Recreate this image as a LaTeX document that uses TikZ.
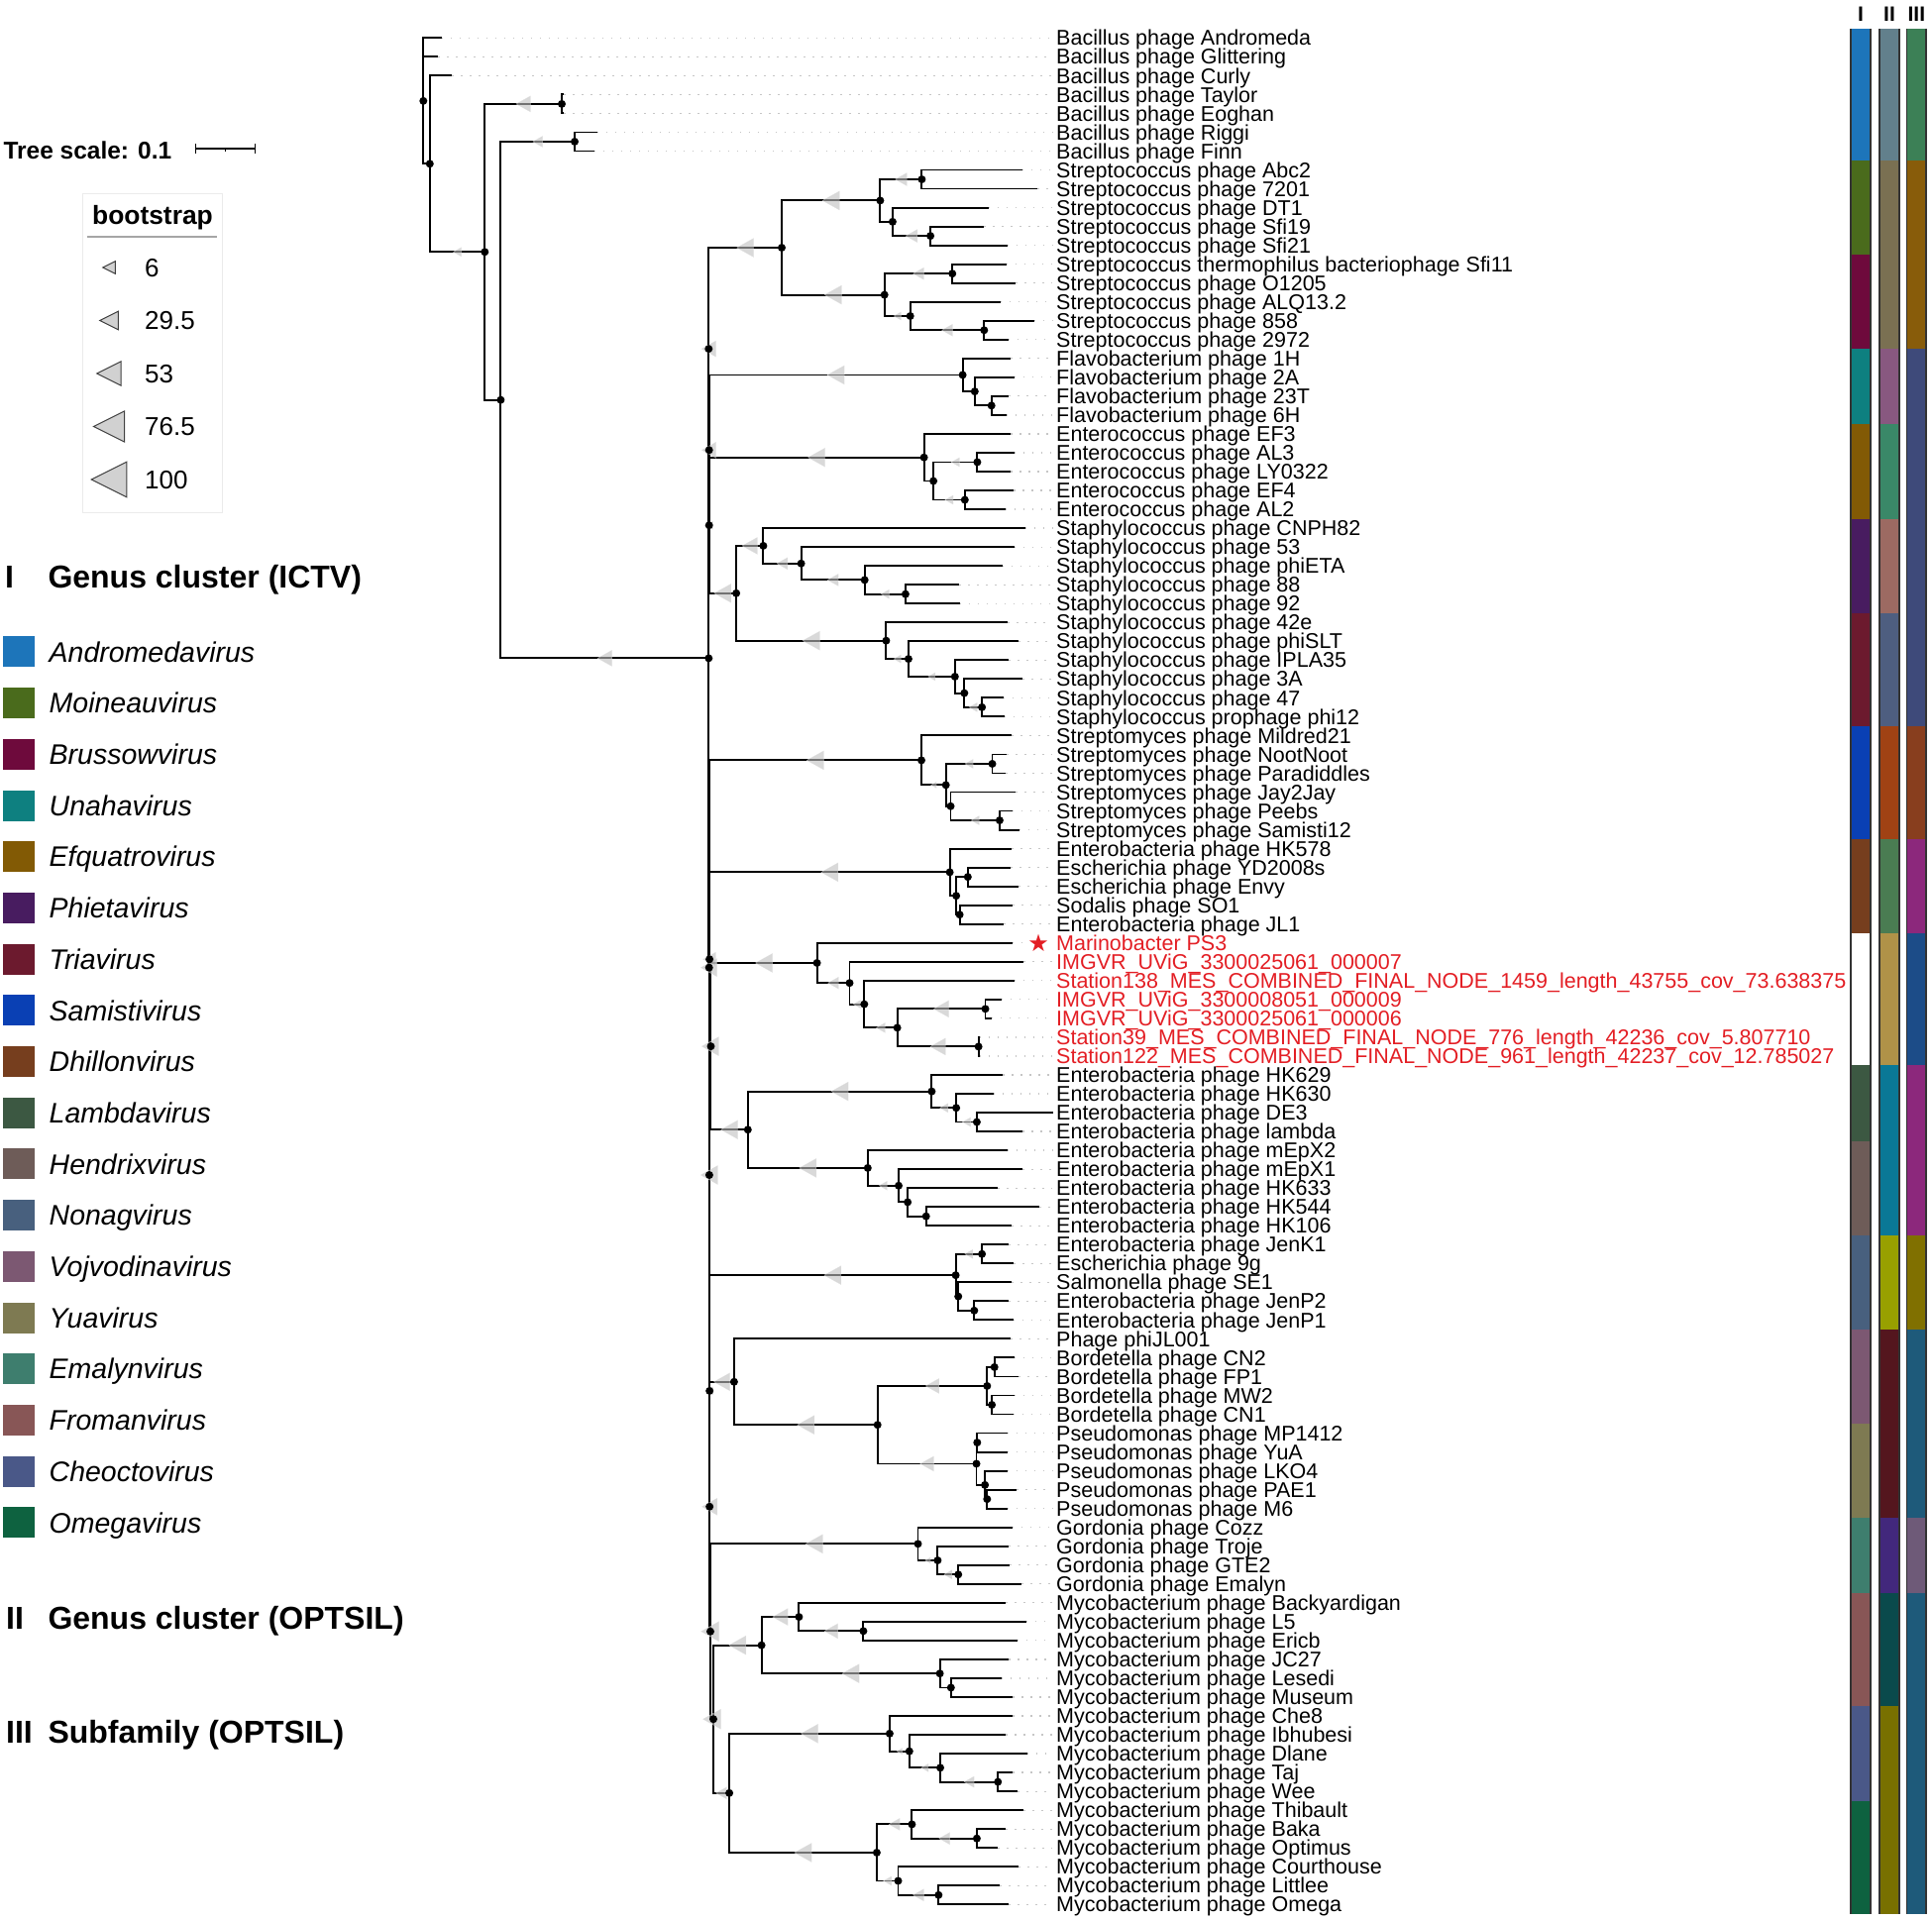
\documentclass[tikz,border=0pt]{standalone}
\usepackage{fontspec}
\setmainfont{Liberation Sans}
\newfontfamily\symfont{DejaVu Sans}
\usetikzlibrary{arrows.meta,positioning,calc}

\definecolor{hitred}{RGB}{227,30,36}
\definecolor{andro}{HTML}{1D75BA}
\definecolor{moine}{HTML}{4A6B1C}
\definecolor{bruss}{HTML}{6E0A3C}
\definecolor{unaha}{HTML}{0E8080}
\definecolor{efqua}{HTML}{825A05}
\definecolor{phiet}{HTML}{481C60}
\definecolor{triav}{HTML}{6C1A2E}
\definecolor{samis}{HTML}{0A40B4}
\definecolor{dhill}{HTML}{763E1E}
\definecolor{lambd}{HTML}{3C5842}
\definecolor{hendr}{HTML}{6E5C58}
\definecolor{nonag}{HTML}{48607E}
\definecolor{vojvo}{HTML}{7C5872}
\definecolor{yuavi}{HTML}{7E7A52}
\definecolor{emaly}{HTML}{3E7E6E}
\definecolor{froma}{HTML}{885656}
\definecolor{cheoc}{HTML}{4A5888}
\definecolor{omega}{HTML}{0E6240}
\definecolor{oga}{HTML}{62808C}
\definecolor{ogb}{HTML}{7A7052}
\definecolor{ogc}{HTML}{885880}
\definecolor{ogd}{HTML}{3A8868}
\definecolor{oge}{HTML}{9C6A62}
\definecolor{ogf}{HTML}{4E5E80}
\definecolor{ogg}{HTML}{A04214}
\definecolor{ogh}{HTML}{4A7C52}
\definecolor{ogi}{HTML}{B09248}
\definecolor{ogj}{HTML}{0A7896}
\definecolor{ogk}{HTML}{98A000}
\definecolor{ogl}{HTML}{54161E}
\definecolor{ogm}{HTML}{42287C}
\definecolor{ogn}{HTML}{0A4A4C}
\definecolor{ogo}{HTML}{787000}
\definecolor{sfa}{HTML}{3C8056}
\definecolor{sfb}{HTML}{885C0A}
\definecolor{sfc}{HTML}{3E4A7A}
\definecolor{sfd}{HTML}{883E1E}
\definecolor{sfe}{HTML}{8C287C}
\definecolor{sff}{HTML}{1C4C88}
\definecolor{sfg}{HTML}{807000}
\definecolor{sfh}{HTML}{1E5A7A}
\definecolor{sfi}{HTML}{6E5A78}

\tikzset{
  boot/.pic={\filldraw[fill=black!25, draw=black!12, fill opacity=.6, draw opacity=.6]
    (-0.45*#1,0) -- (0.45*#1,0.5*#1) -- (0.45*#1,-0.5*#1) -- cycle;},
  ltri/.pic={\filldraw[fill=black!18, draw=black!75, line width=1pt]
    (-0.5*#1,0) -- (0.5*#1,0.5*#1) -- (0.5*#1,-0.5*#1) -- cycle;}
}

\begin{document}
\begin{tikzpicture}[
  x=1pt, y=-1pt,
  br/.style={line width=1.9pt},
  lead/.style={gray!45, line width=1.2pt, dash pattern=on 1.5pt off 7.5pt},
  leaf/.style={anchor=west, inner sep=0pt, font=\fontsize{21.5}{21.5}\selectfont, text height=15.3pt, text depth=0pt},
  hit/.style={leaf, text=hitred},
  head/.style={anchor=base west, inner sep=0pt, font=\bfseries\fontsize{32}{32}\selectfont},
  sq/.style={minimum width=31.7pt, minimum height=31pt, inner sep=0pt},
  gname/.style={inner sep=0pt, font=\itshape\fontsize{28.5}{28.5}\selectfont, text height=20.4pt, text depth=0pt},
  bsval/.style={anchor=west, inner sep=0pt, font=\fontsize{26}{26}\selectfont, text height=18.6pt, text depth=0pt}
]
\useasboundingbox (0,0) rectangle (1950,1938);

\begin{scope}[y=-19.03pt, yshift=-19.27pt]
\coordinate (A1) at (427.3,4.34);
\coordinate (A2) at (433.8,7.675);
\coordinate (A3) at (489.3,12.35);
\coordinate (TE) at (567,4.5);
\coordinate (A4) at (505.4,20.2);
\coordinate (RF) at (580,6.5);
\coordinate (B) at (715.3,33.9);
\coordinate (d1) at (715.3,17.49);
\coordinate (d2) at (715.7,22.86);
\coordinate (d3) at (715.7,26.85);
\coordinate (d6) at (715.7,50.31);
\coordinate (d8) at (715.9,61.31);
\coordinate (d5) at (716.1,49.867);
\coordinate (d7) at (717.5,54.484);
\coordinate (d9) at (716.2,72.76);
\coordinate (d10) at (716.2,78.9);
\coordinate (d11) at (717,85.52);
\coordinate (d12) at (720,90.17);
\coordinate (S0) at (789,12.125);
\coordinate (S1) at (888.4,9.625);
\coordinate (S1a) at (930.4,8.5);
\coordinate (S1b) at (900.9,10.75);
\coordinate (S1c) at (939.1,11.5);
\coordinate (S2) at (892.7,14.625);
\coordinate (S2a) at (961.2,13.5);
\coordinate (S2b) at (918.7,15.75);
\coordinate (S2c) at (993.3,16.5);
\coordinate (F0) at (971.6,18.875);
\coordinate (F1) at (983.8,19.75);
\coordinate (F2) at (1000.7,20.5);
\coordinate (E0) at (932.6,23.25);
\coordinate (E1) at (942.1,24.5);
\coordinate (E2) at (986.4,23.5);
\coordinate (E3) at (973.8,25.5);
\coordinate (T0) at (743.1,30.453);
\coordinate (T1) at (770.4,27.9375);
\coordinate (T2) at (808.6,28.875);
\coordinate (T3) at (872.7,29.75);
\coordinate (T4) at (913.9,30.5);
\coordinate (T5) at (894.4,32.96875);
\coordinate (T6) at (916.9,33.9375);
\coordinate (T7) at (963.8,34.875);
\coordinate (T8) at (973.3,35.75);
\coordinate (T9) at (991.1,36.5);
\coordinate (M0) at (930,39.3125);
\coordinate (M1) at (954.7,40.625);
\coordinate (M2) at (1001.5,39.5);
\coordinate (M3) at (959.5,41.75);
\coordinate (M4) at (1008.9,42.5);
\coordinate (H0) at (958.6,45.25);
\coordinate (H1) at (965.1,46.5);
\coordinate (H2) at (976.8,45.5);
\coordinate (H3) at (968.6,47.5);
\coordinate (R0) at (824.6,50.0625);
\coordinate (R1) at (857.5,51.125);
\coordinate (R2) at (872.3,52.25);
\coordinate (R3) at (905.6,53.5);
\coordinate (R4) at (994.5,52.5);
\coordinate (R5) at (987.6,54.5);
\coordinate (L0) at (754.8,58.906);
\coordinate (L1) at (940.4,56.875);
\coordinate (L2) at (965.1,57.75);
\coordinate (L3) at (985.9,58.5);
\coordinate (L4) at (875.8,60.9375);
\coordinate (L5) at (907,61.875);
\coordinate (L6) at (916.1,62.75);
\coordinate (L7) at (934.7,63.5);
\coordinate (J0) at (964.6,66.625);
\coordinate (J1) at (991.1,65.5);
\coordinate (J2) at (967.2,67.75);
\coordinate (J3) at (983.3,68.5);
\coordinate (P0) at (740.9,72.28);
\coordinate (P1) at (885.7,74.5625);
\coordinate (P2) at (996.3,72.5);
\coordinate (P2a) at (1003.7,71.5);
\coordinate (P2b) at (1001.1,73.5);
\coordinate (P3) at (985.5,76.625);
\coordinate (P3a) at (986.3,75.5);
\coordinate (P3b) at (994.1,77.75);
\coordinate (P3c) at (996.3,78.5);
\coordinate (G0) at (926.5,80.875);
\coordinate (G1) at (946.4,81.75);
\coordinate (G2) at (967.2,82.5);
\coordinate (Y0) at (768.6,86.25);
\coordinate (Y1) at (806.4,84.75);
\coordinate (Y2) at (871.4,85.5);
\coordinate (Y3) at (948.6,87.75);
\coordinate (Y4) at (959.8,88.5);
\coordinate (W0) at (736.1,94.09);
\coordinate (W1) at (897.9,90.9375);
\coordinate (W2) at (917.8,91.875);
\coordinate (W3) at (949,92.75);
\coordinate (W4) at (1007.2,93.5);
\coordinate (W5) at (884.9,97.25);
\coordinate (W6) at (920.4,95.75);
\coordinate (W7) at (985.9,96.5);
\coordinate (W8) at (906.5,98.75);
\coordinate (W9) at (947.3,99.5);

\foreach \r/\x/\txt in {
  1/445.5/Bacillus phage Andromeda, 2/442.1/Bacillus phage Glittering, 3/456.4/Bacillus phage Curly,
  4/569.1/Bacillus phage Taylor, 5/569.1/Bacillus phage Eoghan, 6/602.5/Bacillus phage Riggi,
  7/599.9/Bacillus phage Finn, 8/1031.9/Streptococcus phage Abc2, 9/1047.1/Streptococcus phage 7201,
  10/997.6/Streptococcus phage DT1, 11/993.3/Streptococcus phage Sfi19, 12/1016.7/Streptococcus phage Sfi21,
  13/1015.9/Streptococcus thermophilus bacteriophage Sfi11, 14/1025.4/Streptococcus phage O1205,
  15/1009.8/Streptococcus phage ALQ13.2, 16/1043.6/Streptococcus phage 858, 17/1017.6/Streptococcus phage 2972,
  18/1020.2/Flavobacterium phage 1H, 19/1023.7/Flavobacterium phage 2A, 20/1018/Flavobacterium phage 23T,
  21/1015.9/Flavobacterium phage 6H, 22/1020.2/Enterococcus phage EF3, 23/1023.7/Enterococcus phage AL3,
  24/1020.2/Enterococcus phage LY0322, 25/1023.2/Enterococcus phage EF4, 26/1014.5/Enterococcus phage AL2,
  27/1034.5/Staphylococcus phage CNPH82, 28/1023.7/Staphylococcus phage 53, 29/1011.5/Staphylococcus phage phiETA,
  30/968.1/Staphylococcus phage 88, 31/968.6/Staphylococcus phage 92, 32/1017.1/Staphylococcus phage 42e,
  33/1028.4/Staphylococcus phage phiSLT, 34/1018/Staphylococcus phage IPLA35, 35/1032.3/Staphylococcus phage 3A,
  36/1012.8/Staphylococcus phage 47, 37/1013.7/Staphylococcus prophage phi12, 38/1021.1/Streptomyces phage Mildred21,
  39/1016.3/Streptomyces phage NootNoot, 40/1015/Streptomyces phage Paradiddles, 41/1025.4/Streptomyces phage Jay2Jay,
  42/1021.5/Streptomyces phage Peebs, 43/1028.8/Streptomyces phage Samisti12, 44/1021.1/Enterobacteria phage HK578,
  45/1020.2/Escherichia phage YD2008s, 46/1028/Escherichia phage Envy, 47/1022.4/Sodalis phage SO1,
  48/1013.2/Enterobacteria phage JL1,
  56/1012.4/Enterobacteria phage HK629, 57/1002.8/Enterobacteria phage HK630, 58/1062.7/Enterobacteria phage DE3,
  59/1032.3/Enterobacteria phage lambda, 60/1016.7/Enterobacteria phage mEpX2, 61/1032.3/Enterobacteria phage mEpX1,
  62/1007.1/Enterobacteria phage HK633, 63/1049.2/Enterobacteria phage HK544, 64/1021.1/Enterobacteria phage HK106,
  65/1018/Enterobacteria phage JenK1, 66/1023.2/Escherichia phage 9g, 67/1021.1/Salmonella phage SE1,
  68/1018/Enterobacteria phage JenP2, 69/1022.6/Enterobacteria phage JenP1, 70/1020.2/Phage phiJL001,
  71/1023.6/Bordetella phage CN2, 72/1028.4/Bordetella phage FP1, 73/1023.6/Bordetella phage MW2,
  74/1022.7/Bordetella phage CN1, 75/1016.7/Pseudomonas phage MP1412, 76/1016.7/Pseudomonas phage YuA,
  77/1016.7/Pseudomonas phage LKO4, 78/1026.3/Pseudomonas phage PAE1, 79/1016.7/Pseudomonas phage M6,
  80/1021.5/Gordonia phage Cozz, 81/1018/Gordonia phage Troje, 82/1019.3/Gordonia phage GTE2,
  83/1031/Gordonia phage Emalyn, 84/1015/Mycobacterium phage Backyardigan, 85/1035.8/Mycobacterium phage L5,
  86/1026.7/Mycobacterium phage Ericb, 87/1018/Mycobacterium phage JC27, 88/1010.6/Mycobacterium phage Lesedi,
  89/1022.4/Mycobacterium phage Museum, 90/1022.4/Mycobacterium phage Che8, 91/1015/Mycobacterium phage Ibhubesi,
  92/1036.7/Mycobacterium phage Dlane, 93/1022.4/Mycobacterium phage Taj, 94/1027.1/Mycobacterium phage Wee,
  95/1033.2/Mycobacterium phage Thibault, 96/1015/Mycobacterium phage Baka, 97/1007.1/Mycobacterium phage Optimus,
  98/1028/Mycobacterium phage Courthouse, 99/1009.3/Mycobacterium phage Littlee, 100/1018/Mycobacterium phage Omega}{
  \coordinate (t\r) at (\x,\r);
  \node[leaf] (lab\r) at (1066,\r) {\txt};
  \draw[lead] (t\r) -- ([xshift=-4pt]lab\r.west);
}

\foreach \r/\x/\txt in {
  50/1033.2/IMGVR\_UViG\_3300025061\_000007,
  51/1023.7/Station138\_MES\_COMBINED\_FINAL\_NODE\_1459\_length\_43755\_cov\_73.638375,
  52/1010.6/IMGVR\_UViG\_3300008051\_000009,
  53/1000.6/IMGVR\_UViG\_3300025061\_000006,
  54/988.5/Station39\_MES\_COMBINED\_FINAL\_NODE\_776\_length\_42236\_cov\_5.807710,
  55/988.5/Station122\_MES\_COMBINED\_FINAL\_NODE\_961\_length\_42237\_cov\_12.785027}{
  \coordinate (t\r) at (\x,\r);
  \node[hit] (lab\r) at (1066,\r) {\txt};
  \draw[lead] (t\r) -- ([xshift=-4pt]lab\r.west);
}
\coordinate (t49) at (1021.5,49);
\node[hit] (lab49) at (1066,49) {Marinobacter PS3};
\node[text=hitred, inner sep=0pt, font=\symfont\fontsize{24}{24}\selectfont] (star) at (1048,49) {★};
\draw[lead] (t49) -- ([xshift=-3pt]star.west);

\foreach \a/\b/\c in {1/7/andro, 8/12/moine, 13/17/bruss, 18/21/unaha, 22/26/efqua, 27/31/phiet,
  32/37/triav, 38/43/samis, 44/48/dhill, 56/59/lambd, 60/64/hendr, 65/69/nonag, 70/74/vojvo,
  75/79/yuavi, 80/83/emaly, 84/89/froma, 90/94/cheoc, 95/100/omega}
  \fill[\c] (1868,\a-0.5) rectangle (1888,\b+0.5);
\foreach \a/\b/\c in {1/7/oga, 8/17/ogb, 18/21/ogc, 22/26/ogd, 27/31/oge, 32/37/ogf, 38/43/ogg,
  44/48/ogh, 49/55/ogi, 56/64/ogj, 65/69/ogk, 70/79/ogl, 80/83/ogm, 84/89/ogn, 90/100/ogo}
  \fill[\c] (1897,\a-0.5) rectangle (1917,\b+0.5);
\foreach \a/\b/\c in {1/7/sfa, 8/17/sfb, 18/37/sfc, 38/43/sfd, 44/48/sfe, 49/55/sff, 56/64/sfe,
  65/69/sfg, 70/79/sfh, 80/83/sfi, 84/100/sfh}
  \fill[\c] (1924.5,\a-0.5) rectangle (1944,\b+0.5);
\foreach \x in {1868,1888,1897,1917,1924.5,1944}
  \draw[line width=1.6pt, black!80] (\x,0.5) -- (\x,100.5);
\end{scope}

\foreach \p/\c in {
  A1/t1, A1/t2, A1/A2, A2/t3, A2/A3, A3/TE, A3/A4, TE/t4, TE/t5,
  A4/RF, A4/B, RF/t6, RF/t7,
  B/d1, B/d6, d1/S0, d1/d2, d2/F0, d2/d3, d3/E0, d3/T0,
  d6/M0, d6/d8, d8/d5, d8/d9, d5/H0, d5/d7, d7/R0, d7/L0,
  d9/J0, d9/d10, d10/P0, d10/d11, d11/G0, d11/d12, d12/Y0, d12/W0,
  S0/S1, S0/S2, S1/S1a, S1/S1b, S1a/t8, S1a/t9, S1b/t10, S1b/S1c, S1c/t11, S1c/t12,
  S2/S2a, S2/S2b, S2a/t13, S2a/t14, S2b/t15, S2b/S2c, S2c/t16, S2c/t17,
  F0/t18, F0/F1, F1/t19, F1/F2, F2/t20, F2/t21,
  E0/t22, E0/E1, E1/E2, E1/E3, E2/t23, E2/t24, E3/t25, E3/t26,
  T0/T1, T0/T5, T1/t27, T1/T2, T2/t28, T2/T3, T3/t29, T3/T4, T4/t30, T4/t31,
  T5/t32, T5/T6, T6/t33, T6/T7, T7/t34, T7/T8, T8/t35, T8/T9, T9/t36, T9/t37,
  M0/t38, M0/M1, M1/M2, M1/M3, M2/t39, M2/t40, M3/t41, M3/M4, M4/t42, M4/t43,
  H0/t44, H0/H1, H1/H2, H1/H3, H2/t45, H2/t46, H3/t47, H3/t48,
  R0/t49, R0/R1, R1/t50, R1/R2, R2/t51, R2/R3, R3/R4, R3/R5, R4/t52, R4/t53, R5/t54, R5/t55,
  L0/L1, L0/L4, L1/t56, L1/L2, L2/t57, L2/L3, L3/t58, L3/t59,
  L4/t60, L4/L5, L5/t61, L5/L6, L6/t62, L6/L7, L7/t63, L7/t64,
  J0/J1, J0/J2, J1/t65, J1/t66, J2/t67, J2/J3, J3/t68, J3/t69,
  P0/t70, P0/P1, P1/P2, P1/P3, P2/P2a, P2/P2b, P2a/t71, P2a/t72, P2b/t73, P2b/t74,
  P3/P3a, P3/P3b, P3a/t75, P3a/t76, P3b/t77, P3b/P3c, P3c/t78, P3c/t79,
  G0/t80, G0/G1, G1/t81, G1/G2, G2/t82, G2/t83,
  Y0/Y1, Y0/Y3, Y1/t84, Y1/Y2, Y2/t85, Y2/t86, Y3/t87, Y3/Y4, Y4/t88, Y4/t89,
  W0/W1, W0/W5, W1/t90, W1/W2, W2/t91, W2/W3, W3/t92, W3/W4, W4/t93, W4/t94,
  W5/W6, W5/W8, W6/t95, W6/W7, W7/t96, W7/t97, W8/t98, W8/W9, W9/t99, W9/t100}
  \draw[br] (\p) |- (\c);

\foreach \p/\c/\s in {
  A2/A3/9, A3/TE/16, A4/RF/11, A4/B/16,
  B/d1/16, d1/d2/16, d2/d3/8, B/d6/18, d6/d8/19, d8/d5/14, d5/d7/19, d8/d9/8,
  d9/d10/17, d10/d11/20, d11/d12/20,
  d1/S0/19, S0/S1/19, S0/S2/19, S1/S1a/13, S1b/S1c/13, S2/S2a/12, S2/S2b/8, S2b/S2c/12,
  d2/F0/19, d3/E0/19, E1/E2/9, E1/E3/9,
  d3/T0/19, T0/T1/17, T1/T2/12, T2/T3/12, T3/T4/9, T0/T5/19, T5/T6/8, T6/T7/8, T8/T9/9,
  d6/M0/19, M0/M1/6, M1/M2/9, M3/M4/9,
  d5/H0/19,
  d7/R0/19, R0/R1/12, R1/R2/8, R2/R3/10, R3/R4/17, R3/R5/17,
  d7/L0/19, L0/L1/19, L1/L2/9, L2/L3/9, L0/L4/19, L4/L5/9,
  d9/J0/19, J0/J1/9,
  d10/P0/18, P0/P1/19, P1/P2/15, P1/P3/15,
  d11/G0/19, G0/G1/6, G1/G2/9,
  d12/Y0/19, Y0/Y1/17, Y1/Y2/15, Y0/Y3/19,
  d12/W0/12, W0/W1/19, W1/W2/6, W2/W3/8, W3/W4/11, W0/W5/19, W5/W6/12, W6/W7/12, W5/W8/9, W8/W9/12}
  \pic at ($(\p|-\c)!.5!(\c)$) {boot=\s};

\foreach \n in {A1,A2,A3,TE,A4,RF,B,d1,d2,d3,d5,d6,d7,d8,d9,d10,d11,d12,
  S0,S1,S1a,S1b,S1c,S2,S2a,S2b,S2c,F0,F1,F2,E0,E1,E2,E3,
  T0,T1,T2,T3,T4,T5,T6,T7,T8,T9,M0,M1,M2,M3,M4,H0,H1,H2,H3,
  R0,R1,R2,R3,R4,R5,L0,L1,L2,L3,L4,L5,L6,L7,J0,J1,J2,J3,
  P0,P1,P2,P2a,P2b,P3,P3a,P3b,P3c,G0,G1,G2,Y0,Y1,Y2,Y3,Y4,
  W0,W1,W2,W3,W4,W5,W6,W7,W8,W9}
  \fill (\n) circle[radius=4pt];

\node[font=\bfseries\fontsize{21}{21}\selectfont, anchor=base, inner sep=0pt] (colI) at (1878,21.9) {I};
\node[font=\bfseries\fontsize{21}{21}\selectfont, anchor=base, inner sep=0pt] (colII) at (1907,21.9) {II};
\node[font=\bfseries\fontsize{21}{21}\selectfont, anchor=base, inner sep=0pt] (colIII) at (1934.3,21.9) {III};

\node[anchor=base west, inner sep=0pt, font=\bfseries\fontsize{24.5}{24.5}\selectfont] (tscale) at (3.3,160) {Tree scale: 0.1};
\coordinate (sb1) at (196.7,150);
\coordinate (sb2) at (258.3,150);
\coordinate (sbm) at (227.5,150);
\draw[line width=1.5pt, {Bar[width=10pt]}-{Bar[width=10pt]}] (sb1) -- (sb2);
\draw[line width=1.2pt] (sbm) -- ([yshift=-3pt]sbm);

\draw[black!8, line width=1pt] (83.3,195) rectangle (224.3,517.3);
\node[anchor=base, inner sep=0pt, font=\bfseries\fontsize{26.4}{26.4}\selectfont] (bshead) at (154,226) {bootstrap};
\draw[gray!70, line width=1.5pt] (88.3,239) -- (219.3,239);
\foreach \i/\s/\v in {0/12.5/6, 1/18.5/29.5, 2/24.3/53, 3/31/76.5, 4/35.5/100}{
  \pic at (110,{270+53.5*\i}) {ltri=\s};
  \node[bsval] (bv\i) at (146,{270+53.5*\i}) {\v};
}

\node[head] (hIn) at (5,593.5) {I};
\node[head] (hI) at (48.3,593.5) {Genus cluster (ICTV)};
\foreach \i/\c/\g in {0/andro/Andromedavirus, 1/moine/Moineauvirus, 2/bruss/Brussowvirus,
  3/unaha/Unahavirus, 4/efqua/Efquatrovirus, 5/phiet/Phietavirus, 6/triav/Triavirus,
  7/samis/Samistivirus, 8/dhill/Dhillonvirus, 9/lambd/Lambdavirus, 10/hendr/Hendrixvirus,
  11/nonag/Nonagvirus, 12/vojvo/Vojvodinavirus, 13/yuavi/Yuavirus, 14/emaly/Emalynvirus,
  15/froma/Fromanvirus, 16/cheoc/Cheoctovirus, 17/omega/Omegavirus}{
  \node[sq, fill=\c] (sq\i) at (19.15,{657.9+51.7*\i}) {};
  \node[gname, right=14.3pt of sq\i] (gn\i) {\g};
}
\node[head] (hIIn) at (6,1644.8) {II};
\node[head] (hII) at (48.3,1644.8) {Genus cluster (OPTSIL)};
\node[head] (hIIIn) at (6,1759.5) {III};
\node[head] (hIII) at (48.3,1759.5) {Subfamily (OPTSIL)};
\end{tikzpicture}
\end{document}
